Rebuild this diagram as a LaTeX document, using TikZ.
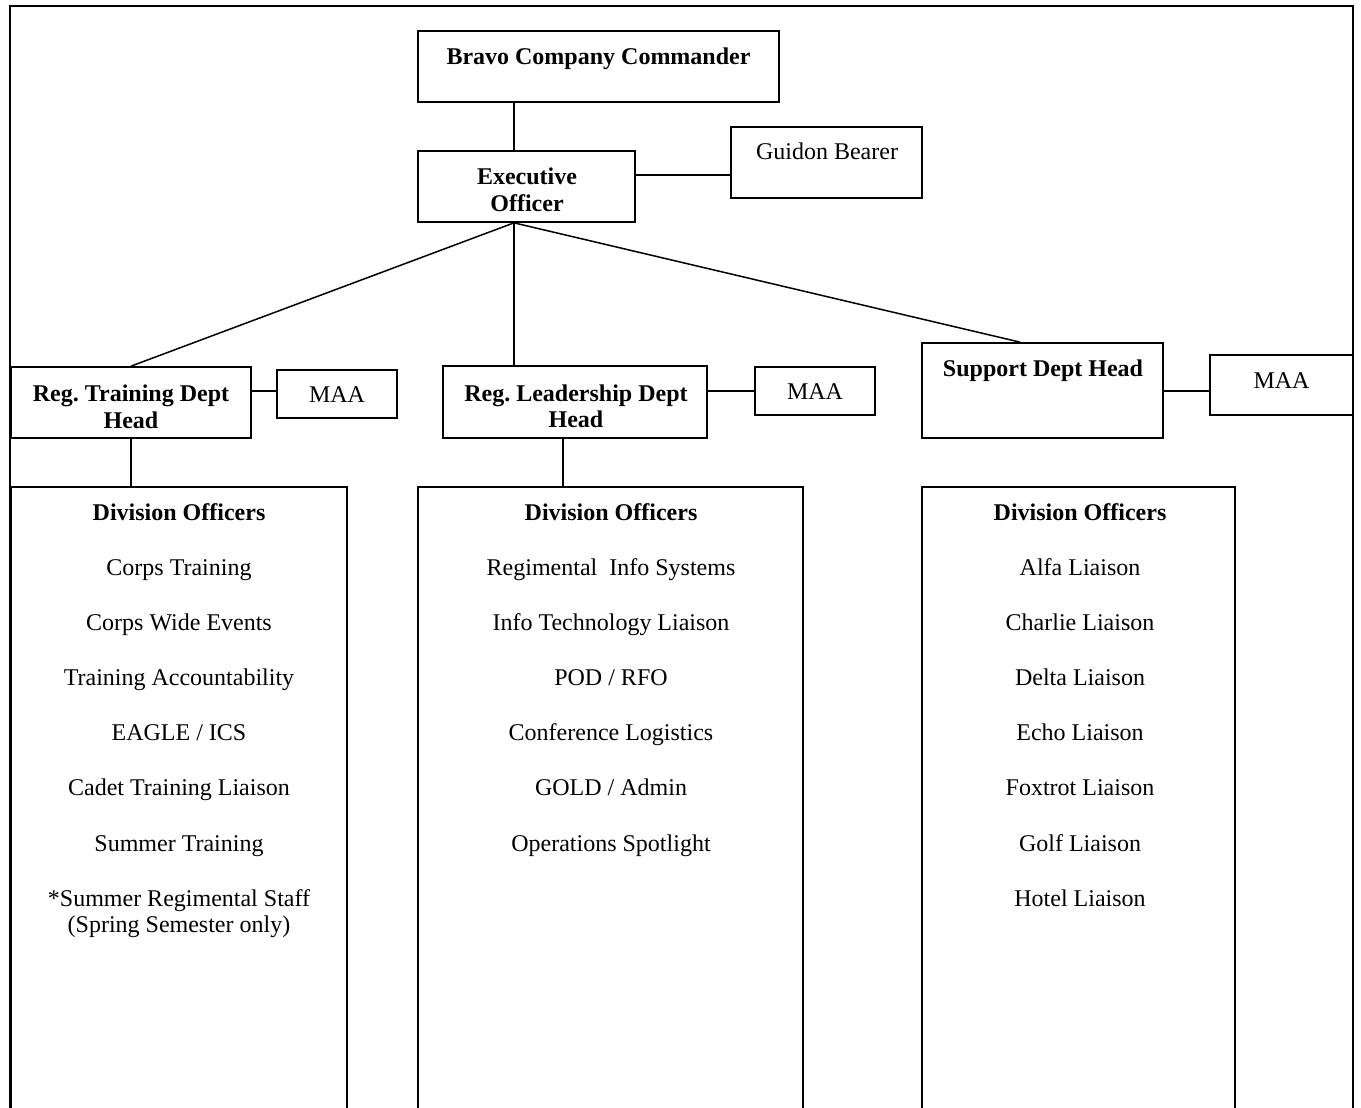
\documentclass[tikz,border=0pt]{standalone}
\usepackage{fontspec}
\setmainfont{Liberation Serif}
\frenchspacing
\begin{document}
\begin{tikzpicture}[x=1pt,y=-1pt,
  box/.style={draw,line width=1.7pt,inner sep=0pt},
  conn/.style={line width=1.5pt},
  txt/.style={font=\fontsize{24}{26.5}\selectfont,align=center,inner sep=0pt},
  btxt/.style={font=\fontsize{24}{26.5}\selectfont\bfseries,align=center,inner sep=0pt}]
\useasboundingbox (0,0) rectangle (1361,1108);
\clip (0,0) rectangle (1361,1108);
% outer frame
\draw[line width=2.2pt] (10,1140) -- (10,6) -- (1353,6) -- (1353,1140);
% boxes
\node[box,minimum width=361pt,minimum height=71pt] (bravo) at (598.5,66.5) {};
\node[box,minimum width=217pt,minimum height=71pt] (exec) at (526.5,186.5) {};
\node[box,minimum width=191pt,minimum height=71pt] (guidon) at (826.5,162.5) {};
\node[box,minimum width=240pt,minimum height=71pt] (train) at (131,402.5) {};
\node[box,minimum width=120pt,minimum height=48pt] (maa1) at (337,394) {};
\node[box,minimum width=264pt,minimum height=72pt] (lead) at (575,402) {};
\node[box,minimum width=120pt,minimum height=48pt] (maa2) at (815,391) {};
\node[box,minimum width=241pt,minimum height=95pt] (supp) at (1042.5,390.5) {};
\node[box,minimum width=143pt,minimum height=60pt] (maa3) at (1281.5,385) {};
\node[box,minimum width=336pt,minimum height=660pt] (div1) at (179,817) {};
\node[box,minimum width=385pt,minimum height=660pt] (div2) at (610.5,817) {};
\node[box,minimum width=313pt,minimum height=660pt] (div3) at (1078.5,817) {};
% texts
\node[btxt,anchor=base] (tbravo) at (598.5,65) {Bravo Company Commander};
\node[btxt] (texec) at (527,190) {Executive\\Officer};
\node[txt,anchor=base] (tguidon) at (827,159) {Guidon Bearer};
\node[btxt] (ttrain) at (131,407) {Reg. Training Dept\\Head};
\node[txt,anchor=base] (tmaa1) at (337,402) {MAA};
\node[btxt] (tlead) at (576,406.5) {Reg. Leadership Dept\\Head};
\node[txt,anchor=base] (tmaa2) at (815,399) {MAA};
\node[btxt,anchor=base] (tsupp) at (1043,376) {Support Dept Head};
\node[txt,anchor=base] (tmaa3) at (1281.5,388) {MAA};
% division 1
\node[btxt,anchor=base] (h1) at (179,520) {Division Officers};
\node[txt,anchor=base] (a1) at (179,575) {Corps Training};
\node[txt,anchor=base] (a2) at (179,630) {Corps Wide Events};
\node[txt,anchor=base] (a3) at (179,685) {Training Accountability};
\node[txt,anchor=base] (a4) at (179,740) {EAGLE / ICS};
\node[txt,anchor=base] (a5) at (179,795) {Cadet Training Liaison};
\node[txt,anchor=base] (a6) at (179,851) {Summer Training};
\node[txt] (a7) at (179,913.5) {*Summer Regimental Staff\\(Spring Semester only)};
% division 2
\node[btxt,anchor=base] (h2) at (611,520) {Division Officers};
\node[txt,anchor=base] (b1) at (611,575) {Regimental\ \ Info Systems};
\node[txt,anchor=base] (b2) at (611,630) {Info Technology Liaison};
\node[txt,anchor=base] (b3) at (611,685) {POD / RFO};
\node[txt,anchor=base] (b4) at (611,740) {Conference Logistics};
\node[txt,anchor=base] (b5) at (611,795) {GOLD / Admin};
\node[txt,anchor=base] (b6) at (611,851) {Operations Spotlight};
% division 3
\node[btxt,anchor=base] (h3) at (1080,520) {Division Officers};
\node[txt,anchor=base] (c1) at (1080,575) {Alfa Liaison};
\node[txt,anchor=base] (c2) at (1080,630) {Charlie Liaison};
\node[txt,anchor=base] (c3) at (1080,685) {Delta Liaison};
\node[txt,anchor=base] (c4) at (1080,740) {Echo Liaison};
\node[txt,anchor=base] (c5) at (1080,795) {Foxtrot Liaison};
\node[txt,anchor=base] (c6) at (1080,851) {Golf Liaison};
\node[txt,anchor=base] (c7) at (1080,906) {Hotel Liaison};
% connectors
\coordinate (spine) at (514,0);
\coordinate (sx) at (1020,0);
\coordinate (lx) at (563,0);
\coordinate (gy) at (0,175);
\coordinate (my) at (0,391);
\draw[conn] (bravo.south -| spine) -- (exec.north -| spine);
\draw[conn] (exec.east |- gy) -- (guidon.west |- gy);
\draw[conn] (exec.south -| spine) -- (train.north);
\draw[conn] (exec.south -| spine) -- (lead.north -| spine);
\draw[conn] (exec.south -| spine) -- (supp.north -| sx);
\draw[conn] (train.east |- my) -- (maa1.west |- my);
\draw[conn] (lead.east |- my) -- (maa2.west |- my);
\draw[conn] (supp.east |- my) -- (maa3.west |- my);
\draw[conn] (train.south) -- (div1.north -| train.south);
\draw[conn] (lead.south -| lx) -- (div2.north -| lx);
\end{tikzpicture}
\end{document}
